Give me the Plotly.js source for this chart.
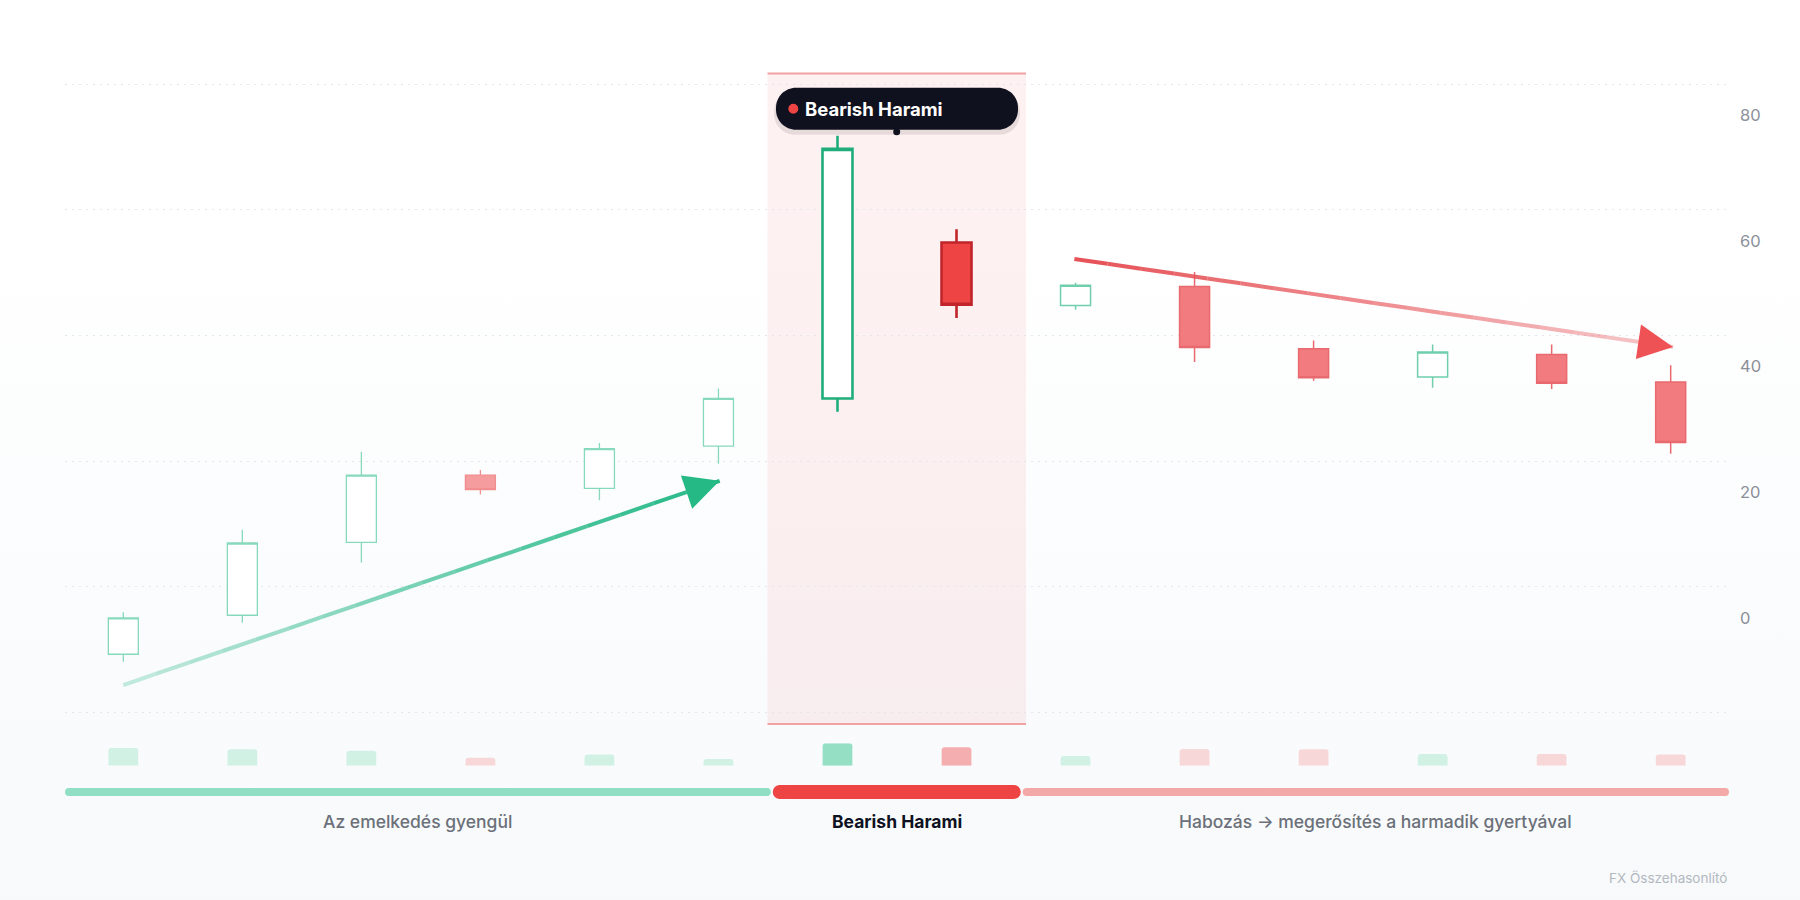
<!DOCTYPE html>
<html lang="hu">
<head>
<meta charset="utf-8">
<title>Bearish Harami</title>
<script src="https://cdn.plot.ly/plotly-3.0.1.min.js"></script>
<style>
  html, body { margin: 0; padding: 0; }
  body { background: linear-gradient(180deg, #ffffff 0%, #ffffff 25%, #f7f9fb 100%); }
  #chart { width: 1800px; height: 900px; }
</style>
</head>
<body>
<div id="chart"></div>
<script>
// Candles (price units of the right axis)
const candleIdx = [0, 1, 2, 3, 4, 5, 6, 7, 8, 9, 10, 11, 12, 13];
const opens  = [-10.7, -4.5,  7.1, 17.8, 15.7, 22.4, 30.0, 54.8, 44.8, 47.8, 37.9, 33.4, 37.0, 32.6];
const highs  = [ -4.0,  9.1, 21.5, 18.6, 22.9, 31.6, 71.8, 56.9, 48.4, 50.1, 39.2, 38.6, 38.6, 35.3];
const lows   = [-11.9, -5.7,  3.9, 14.7, 13.8, 19.6, 27.9, 42.8, 44.1, 35.8, 32.8, 31.7, 31.5, 21.2];
const closes = [ -4.9,  7.0, 17.8, 15.5, 22.0, 30.0, 69.7, 44.9, 48.0, 38.1, 33.3, 37.4, 32.4, 23.0];
const volumes = [79, 73, 67, 36, 50, 30, 100, 82, 43, 75, 73, 52, 52, 50];

// Phases below the chart: first / last candle of each
const phaseLabels = ['Az emelkedés gyengül', 'Bearish Harami', 'Habozás → megerősítés a harmadik gyertyával'];
const phaseFirst = [0, 6, 8];
const phaseLast = [5, 7, 13];
const PATTERN = 1;   // index of the highlighted phase

const yTickVals = [80, 60, 40, 20, 0, -20];
const yTickText = ['80', '60', '40', '20', '0', ''];

// Trend arrows: [x0, y0, x1 (tip), y1 (tip)]
const riseArrow = [0, -15.6, 5.01, 16.9];
const fallArrow = [7.99, 52.2, 13.02, 38.2];

const patternName = 'Bearish Harami';
const watermark = 'FX Összehasonlító';

// ---- layout constants
const W = 1800, H = 900;
const X_RANGE = [-0.49, 13.49];
const X_DOM = [65 / W, 1729 / W];
const PX_PER_X = (X_DOM[1] - X_DOM[0]) * W / (X_RANGE[1] - X_RANGE[0]);
const Y_RANGE = [-21.8, 81.7];
const Y_DOM = [1 - 724 / H, 1 - 73.5 / H];
const VOL_DOM = [1 - 765.7 / H, 1 - 743.3 / H];
const PHASE_Y = 1 - 792 / H;
const LABEL_Y = 1 - 821 / H;

const pLo = phaseFirst[PATTERN], pHi = phaseLast[PATTERN];
const inPattern = (i) => i >= pLo && i <= pHi;

/**
 * One candlestick trace for a slice of the candles.
 */
function candleTrace(from, to, st) {
  const sl = (a) => a.slice(from, to + 1);
  return {
    type: 'candlestick',
    x: sl(candleIdx), open: sl(opens), high: sl(highs), low: sl(lows), close: sl(closes),
    whiskerwidth: 0,
    increasing: { line: { color: st.up, width: st.w }, fillcolor: '#ffffff' },
    decreasing: { line: { color: st.downLine, width: st.w }, fillcolor: st.downFill },
    hoverinfo: 'skip',
    showlegend: false
  };
}

const data = [
  candleTrace(0, pLo - 1, { up: '#86d9bb', downLine: '#f08e90', downFill: '#f49c9e', w: 1.3 }),
  candleTrace(pLo, pHi, { up: '#20ad7c', downLine: '#bf252b', downFill: '#ef4444', w: 2.6 }),
  candleTrace(pHi + 1, candleIdx.length - 1, { up: '#6fcfac', downLine: '#e8696e', downFill: '#f27b7f', w: 1.5 }),
  {
    type: 'bar',
    x: candleIdx,
    y: volumes,
    yaxis: 'y2',
    width: 0.25,
    marker: {
      color: candleIdx.map((i) => {
        const up = closes[i] >= opens[i];
        if (inPattern(i)) return up ? '#95dfc5' : '#f4aeb0';
        return up ? '#d2f1e5' : '#f8d7d8';
      })
    },
    hoverinfo: 'skip',
    showlegend: false
  }
];

// ---- shapes
const shapes = [];

// highlighted pattern window
const regionX0 = pLo - 0.588, regionX1 = pHi + 0.584;
shapes.push({
  type: 'rect', layer: 'below', xref: 'x', yref: 'y domain',
  x0: regionX0, x1: regionX1, y0: 0, y1: 1,
  fillcolor: 'rgba(239,68,68,0.075)', line: { width: 0 }
});
[0, 1].forEach((yy) => shapes.push({
  type: 'line', layer: 'above', xref: 'x', yref: 'y domain',
  x0: regionX0, x1: regionX1, y0: yy, y1: yy,
  line: { color: '#f0a2a4', width: 2 }
}));

// gradient shaft of an arrow, drawn as fading pieces
function arrowShaft(a, rgb, alphaStart, alphaEnd) {
  const n = 18;
  for (let k = 0; k < n; k++) {
    const t0 = k / n, t1 = (k + 1) / n;
    const alpha = alphaStart + (alphaEnd - alphaStart) * (k + 0.5) / n;
    shapes.push({
      type: 'line', layer: 'above', xref: 'x', yref: 'y',
      x0: a[0] + (a[2] - a[0]) * t0, y0: a[1] + (a[3] - a[1]) * t0,
      x1: a[0] + (a[2] - a[0]) * t1, y1: a[1] + (a[3] - a[1]) * t1,
      line: { color: `rgba(${rgb},${alpha.toFixed(3)})`, width: 4 }
    });
  }
}
arrowShaft(riseArrow, '34,183,132', 0.25, 1);
arrowShaft(fallArrow, '229,80,85', 1, 0.3);

// phase bars with round ends
const phaseEdges = [
  [X_RANGE[0], pLo - 0.56],
  [pLo - 0.544, pHi + 0.54],
  [pHi + 0.556, X_RANGE[1]]
];
phaseEdges.forEach(([a, b], k) => {
  const main = k === PATTERN;
  const color = main ? '#ef4444' : (k < PATTERN ? '#90dfc4' : '#f4a9a9');
  const r = main ? 7 : 4;
  const rx = r / PX_PER_X;
  shapes.push({
    type: 'line', layer: 'above', xref: 'x', yref: 'paper',
    x0: a + rx, x1: b - rx, y0: PHASE_Y, y1: PHASE_Y,
    line: { color, width: r * 2 }
  });
  [a + rx, b - rx].forEach((xa) => shapes.push({
    type: 'circle', layer: 'above', xref: 'x', yref: 'paper',
    xsizemode: 'pixel', ysizemode: 'pixel', xanchor: xa, yanchor: PHASE_Y,
    x0: -r, x1: r, y0: -r, y1: r,
    fillcolor: color, line: { width: 0 }
  }));
});

// dark pill with the pattern name
const pillX = (pLo + pHi) / 2, pillY = 76.09;
function pillPath(w, h, r, dy) {
  const k = 0.5523 * r;
  const f = (v) => v.toFixed(2);
  const p = (x, y) => `${f(x)},${f(y + dy)}`;
  return `M${p(-w + r, h)} L${p(w - r, h)} C${p(w - r + k, h)} ${p(w, h - r + k)} ${p(w, h - r)} ` +
    `L${p(w, -h + r)} C${p(w, -h + r - k)} ${p(w - r + k, -h)} ${p(w - r, -h)} ` +
    `L${p(-w + r, -h)} C${p(-w + r - k, -h)} ${p(-w, -h + r - k)} ${p(-w, -h + r)} ` +
    `L${p(-w, h - r)} C${p(-w, h - r + k)} ${p(-w + r - k, h)} ${p(-w + r, h)} Z`;
}
const pixelShape = (extra) => Object.assign({
  layer: 'above', xref: 'x', yref: 'y',
  xsizemode: 'pixel', ysizemode: 'pixel', xanchor: pillX, yanchor: pillY
}, extra);
shapes.push(pixelShape({ type: 'path', path: pillPath(123, 22, 21, -4), fillcolor: 'rgba(15,17,30,0.10)', line: { width: 0 } }));
shapes.push(pixelShape({ type: 'path', path: pillPath(121, 21, 20, 0), fillcolor: '#10111e', line: { width: 0 } }));
shapes.push(pixelShape({ type: 'circle', x0: -108.7, x1: -98.7, y0: -5, y1: 5, fillcolor: '#ef4444', line: { width: 0 } }));
shapes.push(pixelShape({ type: 'circle', x0: -3.8, x1: 3.2, y0: -26.5, y1: -19.5, fillcolor: '#10111e', line: { width: 0 } }));

// ---- annotations
const annotations = [];

function arrowHead(a, color) {
  annotations.push({
    x: a[2], y: a[3], xref: 'x', yref: 'y',
    ax: a[2] - (a[2] - a[0]) * 0.03, ay: a[3] - (a[3] - a[1]) * 0.03,
    axref: 'x', ayref: 'y',
    text: '', showarrow: true,
    arrowhead: 2, arrowsize: 1.75, arrowwidth: 4, arrowcolor: color
  });
}
arrowHead(riseArrow, '#25b985');
arrowHead(fallArrow, '#ee5255');

annotations.push({
  x: pillX, y: pillY, xref: 'x', yref: 'y', xshift: -23,
  text: `<b>${patternName}</b>`, showarrow: false,
  font: { family: 'Inter, sans-serif', size: 18.5, color: '#ffffff' }
});

phaseLabels.forEach((txt, k) => {
  const main = k === PATTERN;
  annotations.push({
    x: (phaseEdges[k][0] + phaseEdges[k][1]) / 2, y: LABEL_Y,
    xref: 'x', yref: 'paper', yanchor: 'middle',
    text: main ? `<b>${txt}</b>` : txt, showarrow: false,
    font: { family: 'Inter, sans-serif', size: 17.5, color: main ? '#0f1222' : '#6b7079', weight: main ? 700 : 500 }
  });
});

annotations.push({
  x: 1729 / W, y: 1 - 878 / H, xref: 'paper', yref: 'paper',
  xanchor: 'right', yanchor: 'middle', text: watermark, showarrow: false,
  font: { family: 'Inter, sans-serif', size: 13.5, color: '#b3b8c0' }
});

const layout = {
  width: W,
  height: H,
  margin: { l: 0, r: 0, t: 0, b: 0 },
  paper_bgcolor: 'rgba(0,0,0,0)',
  plot_bgcolor: 'rgba(0,0,0,0)',
  font: { family: 'Inter, sans-serif' },
  showlegend: false,
  hovermode: false,
  dragmode: false,
  boxgap: 0.748,
  boxgroupgap: 0,
  barcornerradius: 3,
  xaxis: {
    domain: X_DOM, range: X_RANGE, anchor: 'y',
    showgrid: false, zeroline: false, showticklabels: false, ticks: '',
    rangeslider: { visible: false }, fixedrange: true
  },
  yaxis: {
    domain: Y_DOM, range: Y_RANGE, side: 'right', anchor: 'x',
    tickvals: yTickVals, ticktext: yTickText,
    showgrid: true, gridcolor: '#e3e6eb', gridwidth: 1, griddash: '2px,5px',
    zeroline: false, showline: false, ticks: '',
    ticklabelshift: 31, ticklabelstandoff: 10,
    tickfont: { family: 'Inter, sans-serif', size: 16.5, color: '#8b9099' },
    fixedrange: true
  },
  yaxis2: {
    domain: VOL_DOM, range: [0, 100], anchor: 'x',
    visible: false, fixedrange: true
  },
  shapes,
  annotations
};

Plotly.newPlot('chart', data, layout, { displayModeBar: false, staticPlot: true });
</script>
</body>
</html>
